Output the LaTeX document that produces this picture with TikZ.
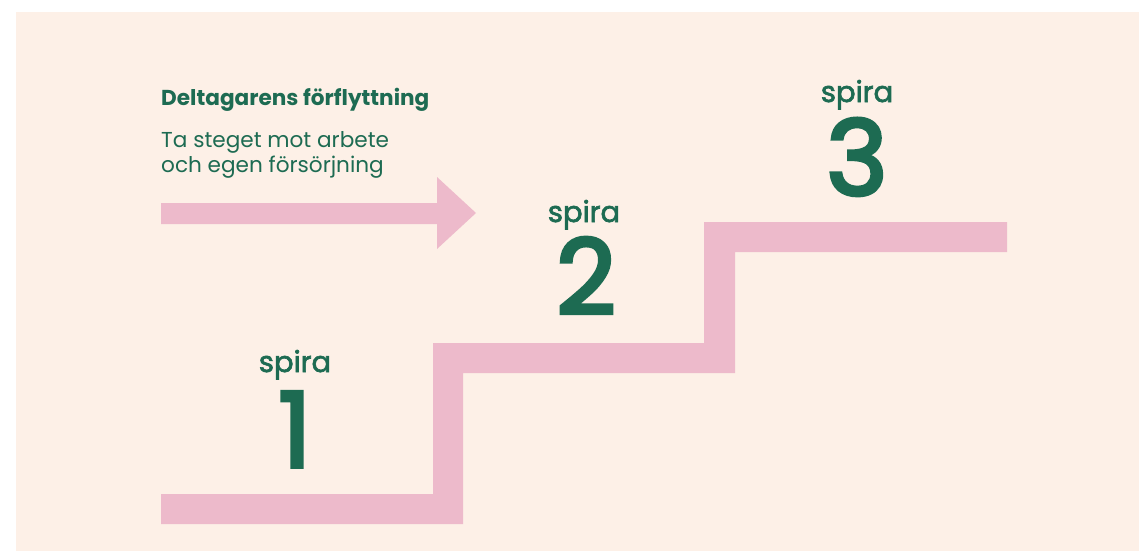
\documentclass[tikz,border=0pt]{standalone}
\usepackage{fontspec}
\setmainfont{Poppins}
\newfontfamily\medfont{Poppins}[BoldFont={Poppins},BoldFeatures={FakeBold=2.2}]
\newfontfamily\numfont{Poppins}[BoldFont={Poppins},BoldFeatures={FakeBold=3.6}]
\definecolor{peach}{HTML}{FDF0E7}
\definecolor{stairpink}{HTML}{EDBACB}
\definecolor{spiragreen}{HTML}{1D6B52}
\begin{document}
\begin{tikzpicture}[x=1pt,y=-1pt,
  txt/.style={inner sep=0pt,text=spiragreen},
  spiralabel/.style={txt,anchor=base,font=\medfont\fontsize{29}{29}\selectfont\bfseries},
  bignum/.style={txt,anchor=base,font=\numfont\fontsize{104}{104}\selectfont\bfseries}]
\useasboundingbox (0,0) rectangle (1139,551);
\fill[white] (0,0) rectangle (1139,551);
\fill[peach] (16,12) rectangle (1139,551);
% stairs
\fill[stairpink] (161,494) -- (433,494) -- (433,343) -- (704,343) -- (704,222) -- (1007,222)
  -- (1007,252) -- (735,252) -- (735,373) -- (463,373) -- (463,524) -- (161,524) -- cycle;
% arrow
\fill[stairpink] (161,203) -- (437,203) -- (437,177) -- (476,213) -- (437,249) -- (437,224) -- (161,224) -- cycle;
% texts
\node[txt,anchor=base west,font=\fontsize{21.6}{21.6}\selectfont\bfseries] (title) at (161,105) {Deltagarens förflyttning};
\node[txt,anchor=base west,font=\fontsize{21.6}{21.6}\selectfont] (sub1) at (161,147) {Ta steget mot arbete};
\node[txt,anchor=base west,font=\fontsize{21.6}{21.6}\selectfont] (sub2) at (161,172) {och egen försörjning};
\node[spiralabel] (s1) at (295,372) {spira};
\node[bignum] (n1) at (295,467) {1};
\node[spiralabel] (s2) at (584,222) {spira};
\node[bignum] (n2) at (586,314) {2};
\node[spiralabel] (s3) at (857,102) {spira};
\node[bignum] (n3) at (857,195) {3};
\end{tikzpicture}
\end{document}
